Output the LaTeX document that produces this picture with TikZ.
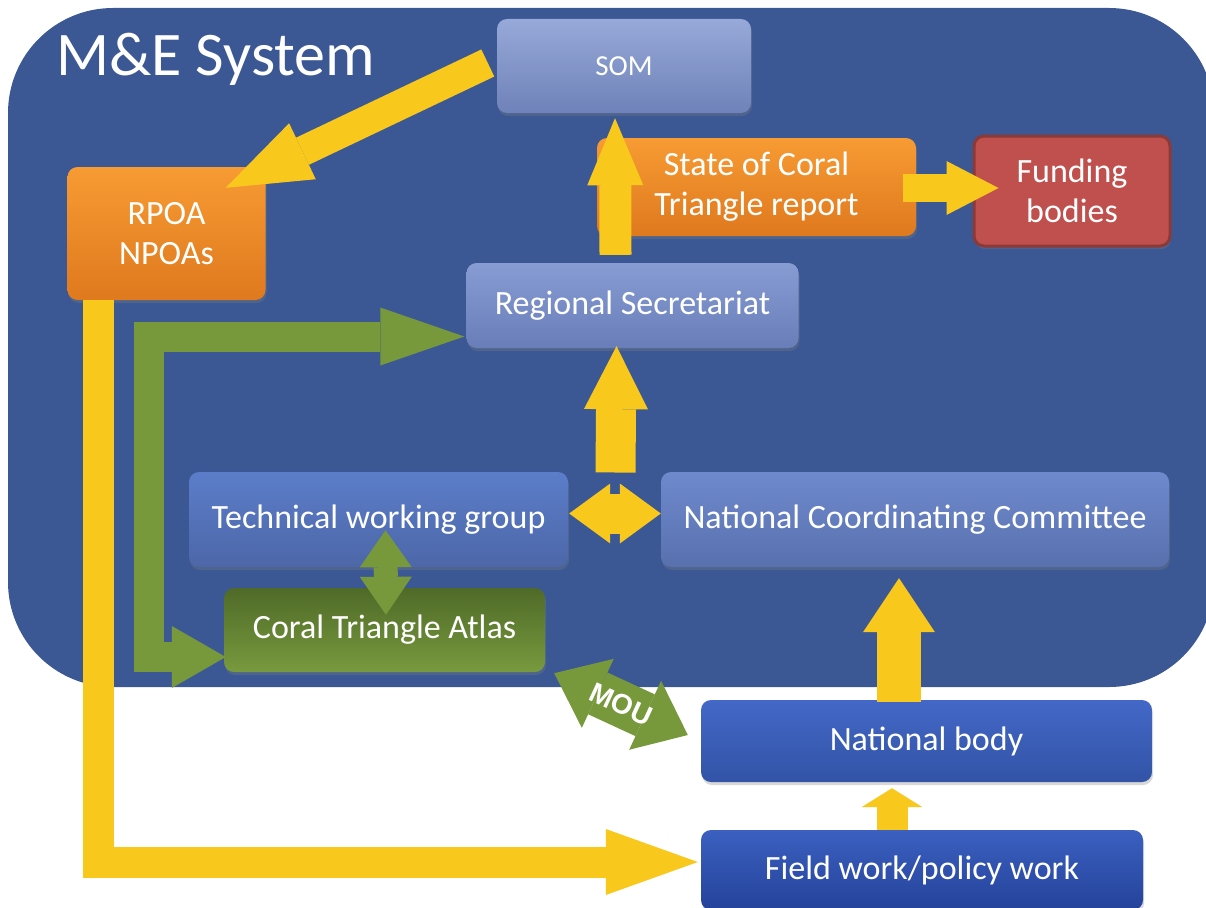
\documentclass[tikz,border=0pt]{standalone}
\usepackage{fontspec}
\setmainfont{Carlito}
\newfontfamily\moufont{Liberation Sans}
\usetikzlibrary{arrows.meta,calc,shadows}

\definecolor{bgblue}{HTML}{3B5894}
\definecolor{arrowyellow}{HTML}{F9C81C}
\definecolor{arrowgreen}{HTML}{77983B}
\definecolor{orangetop}{HTML}{F79B33}
\definecolor{orangebot}{HTML}{DF791E}
\definecolor{fundfill}{HTML}{C0504D}
\definecolor{fundline}{HTML}{8C3A37}
\definecolor{atlastop}{HTML}{4F6A28}
\definecolor{atlasbot}{HTML}{789A3E}
\definecolor{somtop}{HTML}{97A9D8}
\definecolor{sombot}{HTML}{6F82B9}
\definecolor{rstop}{HTML}{879CD3}
\definecolor{rsbot}{HTML}{697EB9}
\definecolor{twgtop}{HTML}{5B7DC9}
\definecolor{twgbot}{HTML}{4D67A8}
\definecolor{ncctop}{HTML}{6E8ACD}
\definecolor{nccbot}{HTML}{5970AE}
\definecolor{nbtop}{HTML}{4368C7}
\definecolor{nbbot}{HTML}{3253A6}
\definecolor{fwtop}{HTML}{3B60C0}
\definecolor{fwbot}{HTML}{24429A}

\begin{document}
\begin{tikzpicture}[x = 1pt, y = -1pt, font = \fontsize{34}{40}\selectfont,
	box/.style = {rounded corners = 10pt, text = white, align = center, inner sep = 0pt,
		drop shadow = {opacity = 0.3, shadow xshift = 1pt, shadow yshift = -3pt}},
	yarrow/.style = {draw = arrowyellow, line width = #1},
	garrow/.style = {draw = arrowgreen, line width = #1}]

\useasboundingbox (0, 0) rectangle (1206, 907);
\fill [white] (0, 0) rectangle (1206, 907);
\fill [bgblue, rounded corners = 105] (8, 8) rectangle (1214, 687);

\node [anchor = base west, text = white, inner sep = 0pt, font = \fontsize{62}{72}\selectfont] (title) at (56, 75) {M\&E System};

\node [box, top color = somtop, bottom color = sombot, minimum width = 254, minimum height = 94, font = \fontsize{29}{35}\selectfont] (som) at (624, 66) {SOM};
\node [box, top color = orangetop, bottom color = orangebot, minimum width = 198, minimum height = 133] (rpoa) at (166.5, 233.5) {RPOA\\NPOAs};
\node [box, top color = orangetop, bottom color = orangebot, minimum width = 319, minimum height = 98] (soc) at (756.5, 187) {State of Coral\\Triangle report};
\node [box, fill = fundfill, draw = fundline, line width = 3pt, minimum width = 196, minimum height = 110] (fund) at (1072, 191) {Funding\\bodies};
\node [box, top color = rstop, bottom color = rsbot, minimum width = 332, minimum height = 85] (rs) at (632.5, 305.5) {Regional Secretariat};
\node [box, top color = twgtop, bottom color = twgbot, minimum width = 379, minimum height = 95] (twg) at (378.5, 519.5) {Technical working group};
\node [box, top color = ncctop, bottom color = nccbot, minimum width = 508, minimum height = 95] (ncc) at (915, 519.5) {National Coordinating Committee};
\node [box, top color = atlastop, bottom color = atlasbot, minimum width = 321, minimum height = 84] (atlas) at (384.5, 630) {Coral Triangle Atlas};
\node [box, top color = nbtop, bottom color = nbbot, minimum width = 451, minimum height = 82] (nb) at (926.5, 741) {National body};
\node [box, top color = fwtop, bottom color = fwbot, minimum width = 442, minimum height = 80] (fw) at (922, 870) {Field work/policy work};

\coordinate (hub) at ($(twg.east)!0.5!(ncc.west)$);

\draw [yarrow = 30pt, -{Triangle[width = 62pt, length = 85pt, line width = 0pt]}] ($(som.west) + (-9, -3)$) -- ($(rpoa.north east) + (-40, 21)$);
\draw [yarrow = 32pt, -{Triangle[width = 56pt, length = 67pt, line width = 0pt]}] ($(rs.north) + (-17, -8)$) -- ($(som.south) + (-9, 5)$);
\draw [yarrow = 28pt, -{Triangle[width = 54pt, length = 52pt, line width = 0pt]}] ($(soc.east) + (-13, 1)$) -- ($(fund.west) + (26, -3)$);
\draw [yarrow = 40pt, -{Triangle[width = 64pt, length = 63pt, line width = 0pt]}] ($(hub) + (1, -47)$) -- ($(rs.south) + (-16, -2)$);
\draw [yarrow = 40pt, {Triangle[width = 60pt, length = 41pt, line width = 0pt]}-{Triangle[width = 60pt, length = 41pt, line width = 0pt]}] ($(twg.east) + (1, -6)$) -- ($(ncc.west) + (0, -6)$);
\draw [garrow = 24pt, {Triangle[width = 52pt, length = 37pt, line width = 0pt]}-{Triangle[width = 52pt, length = 38pt, line width = 0pt]}] ($(twg.south) + (7, -37)$) -- ($(atlas.north) + (1.5, 27)$);
\draw [garrow = 30pt, {Triangle[width = 58pt, length = 84pt, line width = 0pt]}-{Triangle[width = 62pt, length = 54pt, line width = 0pt]}] ($(rs.west) + (-2, 31)$) -| ($(atlas.west) + (-75, 27)$) -- ($(atlas.west) + (2, 27)$);
\draw [yarrow = 31pt, -{Triangle[width = 66pt, length = 92pt, line width = 0pt]}] ($(rpoa.south west) + (31, 0)$) |- ($(fw.west) + (-3, -8)$);
\draw [yarrow = 44pt, -{Triangle[width = 72pt, length = 54pt, line width = 0pt]}] ($(nb.north) + (-27.5, 2)$) -- ($(ncc.south) + (-16, 11)$);
\draw [yarrow = 31pt, -{Triangle[width = 61pt, length = 19pt, line width = 0pt]}] ($(fw.north) + (-30, 0)$) -- ($(nb.south) + (-34.5, 6)$);
\draw [garrow = 46pt, {Triangle[width = 76pt, length = 48pt, line width = 0pt]}-{Triangle[width = 76pt, length = 47pt, line width = 0pt]}] ($(atlas.south east) + (9, 1)$) -- node [sloped, text = white, inner sep = 0pt, font = \moufont\bfseries\fontsize{28}{28}\selectfont] (mou) {MOU} ($(nb.west) + (-13, -6)$);

\end{tikzpicture}
\end{document}
